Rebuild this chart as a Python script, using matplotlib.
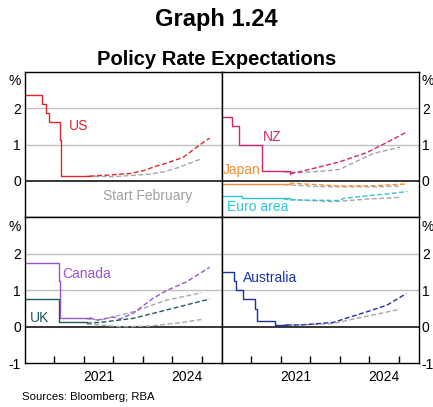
import numpy as np
import matplotlib.pyplot as plt

plt.rcParams['font.family'] = ['Liberation Sans', 'DejaVu Sans']

# x values are decimal years, y values are per cent
# --- United States ---
us_x = [2019.0, 2019.57, 2019.70, 2019.80, 2020.18, 2020.21, 2021.2]
us_y = [2.38, 2.13, 1.88, 1.63, 1.13, 0.13, 0.13]
us_now_x = [2021.2, 2021.54, 2022.0, 2022.6, 2023.0, 2023.5, 2023.8, 2024.37, 2024.93, 2025.27]
us_now_y = [0.13, 0.15, 0.17, 0.21, 0.28, 0.42, 0.49, 0.65, 0.99, 1.18]
us_feb_x = [2021.1, 2022.0, 2022.6, 2023.24, 2023.7, 2024.14, 2024.99]
us_feb_y = [0.13, 0.12, 0.15, 0.19, 0.25, 0.35, 0.61]

# --- New Zealand, Japan, euro area ---
nz_x = [2019.0, 2019.36, 2019.59, 2020.36, 2021.25, 2021.32]
nz_y = [1.75, 1.50, 1.00, 0.27, 0.27, 0.20]
nz_now_x = [2021.32, 2021.67, 2022.33, 2023.0, 2023.91, 2024.59, 2025.29]
nz_now_y = [0.20, 0.26, 0.39, 0.53, 0.78, 1.06, 1.36]
nz_feb_x = [2021.1, 2021.67, 2022.56, 2023.0, 2023.46, 2024.14, 2025.04]
nz_feb_y = [0.25, 0.23, 0.28, 0.32, 0.50, 0.76, 0.93]

jp_x = [2019.0, 2021.3]
jp_y = [-0.09, -0.09]
jp_now_x = [2021.3, 2022.2, 2023.0, 2024.2, 2025.29]
jp_now_y = [-0.06, -0.10, -0.14, -0.13, -0.08]
jp_feb_x = [2021.1, 2022.2, 2023.0, 2024.2, 2025.04]
jp_feb_y = [-0.10, -0.15, -0.16, -0.16, -0.14]

ea_x = [2019.0, 2019.70, 2021.3]
ea_y = [-0.40, -0.48, -0.48]
ea_now_x = [2021.3, 2022.3, 2023.0, 2023.12, 2023.91, 2024.59, 2025.29]
ea_now_y = [-0.52, -0.53, -0.54, -0.48, -0.41, -0.36, -0.29]
ea_feb_x = [2021.1, 2022.0, 2022.8, 2023.9, 2025.04]
ea_feb_y = [-0.50, -0.54, -0.57, -0.50, -0.45]

# --- Canada and United Kingdom ---
ca_x = [2019.0, 2020.16, 2020.20, 2021.2]
ca_y = [1.75, 1.26, 0.25, 0.25]
ca_now_x = [2021.2, 2021.43, 2021.99, 2022.22, 2022.67, 2023.35, 2023.8, 2024.48, 2025.27]
ca_now_y = [0.25, 0.18, 0.27, 0.21, 0.37, 0.78, 0.99, 1.23, 1.63]
ca_feb_x = [2021.1, 2021.54, 2022.67, 2023.8, 2024.99]
ca_feb_y = [0.22, 0.18, 0.41, 0.73, 0.93]

uk_x = [2019.0, 2020.16, 2021.1]
uk_y = [0.75, 0.12, 0.12]
uk_now_x = [2021.1, 2021.54, 2022.67, 2023.8, 2025.27]
uk_now_y = [0.10, 0.12, 0.23, 0.46, 0.76]
uk_feb_x = [2021.1, 2021.54, 2022.22, 2023.24, 2024.25, 2024.99]
uk_feb_y = [0.08, 0.05, 0.00, 0.02, 0.11, 0.20]

# --- Australia ---
au_x = [2019.0, 2019.42, 2019.48, 2019.73, 2020.13, 2020.19, 2020.81, 2021.2]
au_y = [1.50, 1.26, 1.00, 0.75, 0.48, 0.15, 0.05, 0.05]
au_now_x = [2021.2, 2021.66, 2022.78, 2023.35, 2023.91, 2024.59, 2025.25]
au_now_y = [0.05, 0.05, 0.12, 0.27, 0.41, 0.59, 0.91]
au_feb_x = [2021.1, 2021.66, 2022.78, 2023.91, 2025.04]
au_feb_y = [0.05, 0.05, 0.09, 0.29, 0.48]

grey = '#a6a6a6'
c_us = '#e3242b'
c_nz = '#d4246f'
c_jp = '#f68b33'
c_ea = '#2cc5d5'
c_ca = '#9b52d6'
c_uk = '#1e5b63'
c_au = '#1b31a6'

fig = plt.figure(figsize=(4.33, 4.07), dpi=100)
x0, xm, x1 = 25 / 433, 221.7 / 433, 419 / 433
yt, ym, yb = 1 - 72 / 407, 1 - 217.3 / 407, 1 - 363.3 / 407
w, h = xm - x0, yt - ym

ax_us = fig.add_axes([x0, ym, w, h])
ax_nz = fig.add_axes([xm, ym, x1 - xm, h])
ax_ca = fig.add_axes([x0, yb, w, ym - yb])
ax_au = fig.add_axes([xm, yb, x1 - xm, ym - yb])

for ax in [ax_us, ax_nz, ax_ca, ax_au]:
    ax.set_xlim(2019, 2025.68)
    ax.set_ylim(-1, 3)
    for sp in ax.spines.values():
        sp.set_color('black')
        sp.set_linewidth(1.0)
    ax.axhline(1, color='#c0c0c0', lw=1.0, zorder=0)
    ax.axhline(2, color='#c0c0c0', lw=1.0, zorder=0)
    ax.axhline(0, color='black', lw=1.1, zorder=1)
    ax.tick_params(axis='y', length=0, labelsize=10, pad=3)

for ax, bottom in [(ax_us, False), (ax_nz, False), (ax_ca, True), (ax_au, True)]:
    if bottom:
        ax.set_yticks([-1, 0, 1, 2, 2.78], ['-1', '0', '1', '2', '%'])
        ax.set_xticks([2020, 2021, 2022, 2023, 2024, 2025], [])
        ax.set_xticks([2021.5, 2024.5], ['2021', '2024'], minor=True)
        ax.tick_params(axis='x', which='major', direction='in', length=5, width=1)
        ax.tick_params(axis='x', which='minor', length=0, labelsize=10, pad=5)
    else:
        ax.set_yticks([0, 1, 2, 2.78], ['0', '1', '2', '%'])
        ax.set_xticks([])

for ax in [ax_nz, ax_au]:
    ax.yaxis.tick_right()
    ax.tick_params(axis='y', length=0, pad=2)

dash = dict(lw=1.0, dashes=(3.5, 1.8))
sol = dict(lw=1.0, drawstyle='steps-post')

# US
ax_us.plot(us_feb_x, us_feb_y, color=grey, **dash)
ax_us.plot(us_x, us_y, color=c_us, **sol)
ax_us.plot(us_now_x, us_now_y, color=c_us, **dash)
ax_us.text(2020.49, 1.5, 'US', color=c_us, fontsize=10, va='center')
ax_us.text(2023.17, -0.41, 'Start February', color='#a0a0a0', fontsize=10,
           ha='center', va='center')

# NZ, Japan, euro area
for fx, fy in [(nz_feb_x, nz_feb_y), (jp_feb_x, jp_feb_y), (ea_feb_x, ea_feb_y)]:
    ax_nz.plot(fx, fy, color=grey, **dash)
ax_nz.plot(nz_x, nz_y, color=c_nz, **sol)
ax_nz.plot(nz_now_x, nz_now_y, color=c_nz, **dash)
ax_nz.plot(jp_x, jp_y, color=c_jp, **sol)
ax_nz.plot(jp_now_x, jp_now_y, color=c_jp, **dash)
ax_nz.plot(ea_x, ea_y, color=c_ea, **sol)
ax_nz.plot(ea_now_x, ea_now_y, color=c_ea, **dash)
ax_nz.text(2020.39, 1.22, 'NZ', color=c_nz, fontsize=10, va='center')
ax_nz.text(2019.02, 0.30, 'Japan', color=c_jp, fontsize=10, va='center')
ax_nz.text(2019.19, -0.71, 'Euro area', color=c_ea, fontsize=10, va='center')

# Canada, UK
ax_ca.plot(ca_feb_x, ca_feb_y, color=grey, **dash)
ax_ca.plot(uk_feb_x, uk_feb_y, color=grey, **dash)
ax_ca.plot(ca_x, ca_y, color=c_ca, **sol)
ax_ca.plot(ca_now_x, ca_now_y, color=c_ca, **dash)
ax_ca.plot(uk_x, uk_y, color=c_uk, **sol)
ax_ca.plot(uk_now_x, uk_now_y, color=c_uk, **dash)
ax_ca.text(2020.28, 1.44, 'Canada', color=c_ca, fontsize=10, va='center')
ax_ca.text(2019.15, 0.23, 'UK', color=c_uk, fontsize=10, va='center')

# Australia
ax_au.plot(au_feb_x, au_feb_y, color=grey, **dash)
ax_au.plot(au_x, au_y, color=c_au, **sol)
ax_au.plot(au_now_x, au_now_y, color=c_au, **dash)
ax_au.text(2019.73, 1.33, 'Australia', color=c_au, fontsize=10, va='center')

fig.text(0.5, 0.953, 'Graph 1.24', ha='center', va='center', fontsize=17, fontweight='bold')
fig.text(0.5, 0.855, 'Policy Rate Expectations', ha='center', va='center',
         fontsize=14.5, fontweight='bold')
fig.text(0.051, 0.025, 'Sources: Bloomberg; RBA', ha='left', va='center', fontsize=8.2)

fig.savefig('out.png', dpi=100)
